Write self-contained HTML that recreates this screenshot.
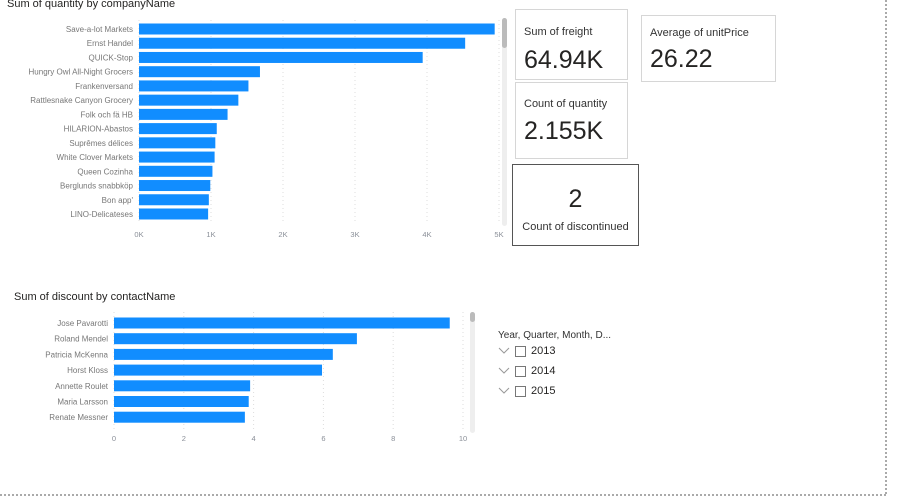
<!DOCTYPE html>
<html><head><meta charset="utf-8">
<style>
body{margin:0;width:900px;height:502px;background:#fff;overflow:hidden;font-family:"Liberation Sans",sans-serif;position:relative}
.card{position:absolute;border:1px solid #d6d6d6;box-sizing:border-box;background:#fff}
.lbl{position:absolute;font-size:11px;color:#333}
.val{position:absolute;font-size:25px;color:#252423}
</style></head><body>
<svg id="chart" width="900" height="502" style="position:absolute;left:0;top:0">
<line x1="886" y1="0" x2="886" y2="495" stroke="#555" stroke-dasharray="2,2"/>
<line x1="0" y1="495" x2="886" y2="495" stroke="#555" stroke-dasharray="2,2"/>
<text x="7" y="7" font-size="11" fill="#252423">Sum of quantity by companyName</text>
<text x="14" y="300" font-size="11" fill="#252423">Sum of discount by contactName</text>
<rect x="502" y="18" width="5" height="208" rx="2.5" fill="#eee"/>
<rect x="502" y="18" width="5" height="30" rx="2.5" fill="#bbb"/>
<rect x="470" y="312" width="5" height="121" rx="2.5" fill="#eee"/>
<rect x="470" y="312" width="5" height="10" rx="2.5" fill="#bbb"/>
<g id="g1"></g><g id="g2"></g>
</svg>

<div class="card" style="left:515px;top:9px;width:113px;height:71px">
<div class="lbl" style="left:8px;top:16px">Sum of freight</div><div class="val" style="left:8px;top:36px">64.94K</div></div>
<div class="card" style="left:641px;top:15px;width:135px;height:67px">
<div class="lbl" style="left:8px;top:11px">Average of unitPrice</div><div class="val" style="left:8px;top:29px">26.22</div></div>
<div class="card" style="left:515px;top:82px;width:113px;height:77px">
<div class="lbl" style="left:8px;top:15px">Count of quantity</div><div class="val" style="left:8px;top:34px">2.155K</div></div>
<div class="card" style="left:512px;top:164px;width:127px;height:82px;border-color:#555">
<div class="val" style="left:0;width:125px;text-align:center;top:20px">2</div>
<div class="lbl" style="left:0;width:125px;text-align:center;top:56px">Count of discontinued</div></div>

<div style="position:absolute;left:498px;top:330px;font-size:10px;color:#333">Year, Quarter, Month, D...</div>
<div id="slicer"></div>

<script>
const companies=["Save-a-lot Markets","Ernst Handel","QUICK-Stop","Hungry Owl All-Night Grocers","Frankenversand","Rattlesnake Canyon Grocery","Folk och fä HB","HILARION-Abastos","Suprêmes délices","White Clover Markets","Queen Cozinha","Berglunds snabbköp","Bon app'","LINO-Delicateses"];
const quantities=[4940,4530,3940,1680,1520,1380,1230,1080,1060,1050,1020,990,970,960];
const qtyTicks=[0,1000,2000,3000,4000,5000];
const qtyTickLabels=["0K","1K","2K","3K","4K","5K"];
const contacts=["Jose Pavarotti","Roland Mendel","Patricia McKenna","Horst Kloss","Annette Roulet","Maria Larsson","Renate Messner"];
const discounts=[9.62,6.96,6.27,5.96,3.9,3.86,3.75];
const discTicks=[0,2,4,6,8,10];
const discTickLabels=["0","2","4","6","8","10"];
const years=["2013","2014","2015"];

const NS="http://www.w3.org/2000/svg";
function mk(tag,attrs,parent,txt){const e=document.createElementNS(NS,tag);for(const k in attrs)e.setAttribute(k,attrs[k]);if(txt!==undefined)e.textContent=txt;parent.appendChild(e);return e;}
function bars(g,cats,vals,ticks,tlabels,x0,x1,max,y0,step,tickY,gridTop,gridBot,prefix){
  const sx=v=>x0+(v/max)*(x1-x0);
  ticks.forEach((t,i)=>{
    const gl=mk("line",{x1:sx(t),x2:sx(t),y1:gridTop,y2:gridBot,stroke:"#ddd","stroke-dasharray":"1,3"},g);
    
    
    const tl=mk("text",{x:sx(t),y:tickY,"font-size":"7.5",fill:"#8a8f98","text-anchor":"middle"},g,tlabels[i]);
    
    
  });
  cats.forEach((c,i)=>{
    const cy=y0+i*step;
    const r=mk("rect",{x:x0,y:cy-5.5,width:sx(vals[i])-x0,height:11,fill:"#118DFF"},g);
    
    
    const l=mk("text",{x:x0-6,y:cy+3,"font-size":"8",fill:"#777","text-anchor":"end"},g,c);
    
    
  });
}
bars(document.getElementById("g1"),companies,quantities,qtyTicks,qtyTickLabels,139,499,5000,29,14.23,237,20,224,"quantity");
bars(document.getElementById("g2"),contacts,discounts,discTicks,discTickLabels,114,463,10,323,15.7,441,312,430,"discount");

const s=document.getElementById("slicer");
years.forEach((y,i)=>{
  const d=document.createElement("div");
  d.style.cssText="position:absolute;left:498px;top:"+(345+i*20)+"px;height:16px;font-size:11px;color:#252423";
  d.innerHTML='<svg style="position:absolute;left:0;top:2px" width="12" height="8"><polyline points="1,1 6,6 11,1" fill="none" stroke="#999" stroke-width="1"/></svg><span style="position:absolute;left:17px;top:1px;width:9px;height:9px;border:1px solid #777"></span><span style="position:absolute;left:33px;top:0">'+y+'</span>';
  
  
  s.appendChild(d);
});
</script>
</body></html>
